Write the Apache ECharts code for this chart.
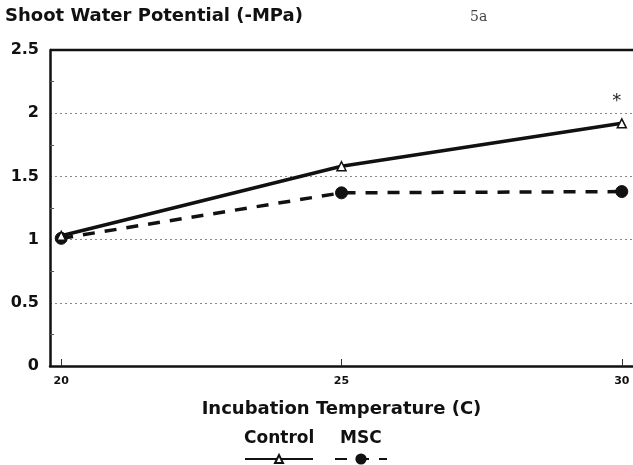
<!DOCTYPE html>
<html>
<head>
<meta charset="utf-8">
<script src="https://cdn.jsdelivr.net/npm/echarts@6/dist/echarts.min.js"></script>
<style>html,body{margin:0;padding:0;background:#fff;}#c{width:633px;height:465px;}</style>
</head>
<body>
<div id="c"></div>
<script>
var temperatures = [20, 25, 30];
var controlValues = [1.03, 1.58, 1.92];
var mscValues = [1.01, 1.37, 1.38];
var yTicks = [0, 0.5, 1, 1.5, 2, 2.5];
var xTicks = [20, 25, 30];
var seriesNames = ['Control', 'MSC'];
var significant = [false, false, true];

var FONT = 'DejaVu Sans';
var chart = echarts.init(document.getElementById('c'), null, {renderer: 'canvas'});

function pairs(vals, markSig) {
  return temperatures.map(function (t, i) {
    var item = {value: [t, vals[i]]};
    if (markSig && significant[i]) {
      item.label = {show: true, formatter: '*', position: 'top', distance: 8,
        color: '#222', fontSize: 18, fontFamily: FONT, offset: [-5, 0]};
    }
    return item;
  });
}

chart.setOption({
  animation: false,
  backgroundColor: '#fff',
  grid: {left: 50, right: 0, top: 50, bottom: 99, containLabel: false},
  xAxis: {
    type: 'value', min: 19.8, max: 30.2,
    axisLine: {show: true, lineStyle: {color: '#111', width: 2.5}},
    axisTick: {show: true, inside: true, length: 7, customValues: xTicks, lineStyle: {color: '#333', width: 1}},
    axisLabel: {customValues: xTicks, color: '#111', fontFamily: FONT, fontWeight: 'bold', fontSize: 11, margin: 10},
    splitLine: {show: false},
    name: 'Incubation Temperature (C)', nameLocation: 'middle', nameGap: 34,
    nameTextStyle: {color: '#111', fontFamily: FONT, fontWeight: 'bold', fontSize: 18}
  },
  yAxis: {
    type: 'value', min: 0, max: 2.5, interval: 0.5,
    axisLine: {show: true, lineStyle: {color: '#111', width: 2.5}},
    axisTick: {show: false, inside: true},
    minorTick: {show: true, splitNumber: 2, length: 4, lineStyle: {color: '#555'}},
    axisLabel: {color: '#111', fontFamily: FONT, fontWeight: 'bold', fontSize: 16, margin: 11,
      customValues: yTicks,
      formatter: function (v) { return String(v); }},
    splitLine: {show: true, lineStyle: {color: '#888', type: [2, 3], width: 1}}
  },
  legend: [
    {data: [seriesNames[0]], left: 244, top: 454, itemWidth: 68, itemHeight: 10, formatter: function(){return '';}, padding: 0, itemGap: 0, selectedMode: false},
    {data: [seriesNames[1]], left: 334, top: 452, itemWidth: 52, itemHeight: 14, formatter: function(){return '';}, padding: 0, itemGap: 0, selectedMode: false}
  ],
  graphic: [
    {type: 'text', left: 5, top: 7, style: {text: 'Shoot Water Potential (-MPa)', font: 'bold 18px "DejaVu Sans"', fill: '#111'}},
    {type: 'text', left: 470, top: 10, style: {text: '5a', font: '14px "DejaVu Serif"', fill: '#444'}},
    {type: 'line', z: 10, shape: {x1: 50, y1: 50, x2: 633, y2: 50}, style: {stroke: '#111', lineWidth: 2.5}},
    {type: 'text', left: 244, top: 430, style: {text: 'Control', font: 'bold 17px "DejaVu Sans"', fill: '#111'}},
    {type: 'text', left: 340, top: 430, style: {text: 'MSC', font: 'bold 17px "DejaVu Sans"', fill: '#111'}}
  ],
  series: [
    {
      name: seriesNames[0], type: 'line', data: pairs(controlValues, true),
      symbol: 'triangle', symbolSize: 9, showAllSymbol: true,
      itemStyle: {color: '#fff', borderColor: '#111', borderWidth: 1.5},
      lineStyle: {color: '#111', width: 3.5, type: 'solid'},
      z: 3
    },
    {
      name: seriesNames[1], type: 'line', data: pairs(mscValues, false),
      symbol: 'circle', symbolSize: 12,
      itemStyle: {color: '#111', borderColor: '#111'},
      lineStyle: {color: '#111', width: 3.5, type: [12, 10]},
      z: 2
    }
  ]
});
</script>
</body>
</html>
